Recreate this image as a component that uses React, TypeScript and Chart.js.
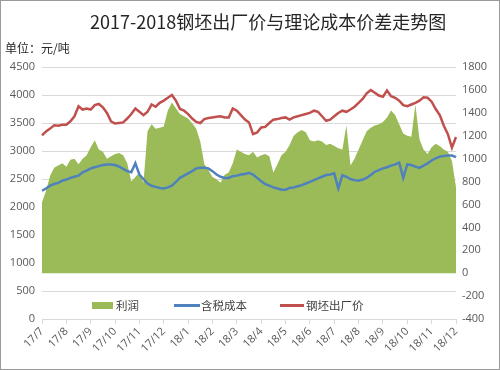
import React, { useEffect, useRef } from "react";
import { Chart, registerables } from "chart.js";

Chart.register(...registerables);

const monthLabels = [
  "17/7", "17/8", "17/9", "17/10", "17/11", "17/12",
  "18/1", "18/2", "18/3", "18/4", "18/5", "18/6",
  "18/7", "18/8", "18/9", "18/10", "18/11", "18/12",
];
const pointsPerMonth = 6;

// 钢坯出厂价 (left axis)
const priceValues = [
  3280, 3350, 3400, 3460, 3450, 3470, 3470, 3530, 3620, 3800,
  3740, 3760, 3740, 3820, 3840, 3780, 3680, 3530, 3490, 3500,
  3510, 3580, 3660, 3760, 3700, 3640, 3700, 3830, 3790, 3860,
  3900, 3950, 4000, 3900, 3750, 3720, 3660, 3580, 3520, 3500,
  3570, 3590, 3600, 3610, 3620, 3600, 3600, 3760, 3720, 3640,
  3560, 3510, 3300, 3330, 3420, 3430, 3500, 3560, 3570, 3590,
  3600, 3560, 3600, 3620, 3640, 3660, 3680, 3720, 3700, 3620,
  3540, 3560, 3620, 3680, 3720, 3700, 3740, 3790, 3860, 3930,
  4030, 4090, 4040, 3990, 3970, 4080, 3980, 3950, 3900, 3820,
  3800, 3830, 3860, 3900, 3960, 3950, 3880, 3750, 3640, 3450,
  3300, 3060, 3250,
];

// 含税成本 (left axis)
const costValues = [
  2290, 2330, 2380, 2410, 2430, 2470, 2490, 2520, 2540, 2560,
  2620, 2650, 2690, 2710, 2730, 2750, 2760, 2760, 2750, 2720,
  2680, 2640, 2620, 2780, 2580, 2500, 2420, 2380, 2360, 2340,
  2330, 2350, 2380, 2450, 2520, 2560, 2600, 2640, 2690, 2700,
  2700, 2690, 2640, 2580, 2540, 2520, 2520, 2550, 2560, 2580,
  2590, 2610, 2580, 2520, 2460, 2410, 2380, 2350, 2330, 2310,
  2310, 2340, 2350, 2370, 2390, 2420, 2450, 2480, 2510, 2540,
  2570, 2580, 2600, 2330, 2570, 2540, 2500, 2480, 2470, 2490,
  2520, 2570, 2630, 2660, 2690, 2710, 2740, 2760, 2790, 2520,
  2760, 2750, 2720, 2700, 2740, 2780, 2830, 2870, 2900, 2910,
  2920, 2920, 2890,
];

// 利润 (right axis)
const profitValues = [
  620, 720, 850, 920, 940, 960, 930, 990, 1000, 950,
  1000, 1030, 1100, 1160, 1080, 1060, 1000, 1020, 1040, 1050,
  1030, 960, 800, 840, 880, 790, 1240, 1300, 1260, 1270,
  1280, 1420, 1490, 1440, 1390, 1370, 1350, 1310, 1260, 1150,
  950, 900, 840, 820, 790, 860, 880, 960, 1080, 1060,
  1040, 1030, 1060, 1010, 1030, 1040, 1020, 880, 950, 1030,
  1060, 1120, 1200, 1230, 1250, 1230, 1160, 1150, 1160, 1150,
  1120, 1130, 1110, 1090, 1080, 1290, 940, 1000, 1080, 1160,
  1240, 1270, 1290, 1300, 1320, 1360, 1420, 1380, 1300, 1220,
  1200, 1190, 1470, 1170, 1080, 1040, 1100, 1130, 1110, 1080,
  1060, 980, 750,
];

const leftTicks = { min: 0, max: 4500, step: 500 };
const rightTicks = { min: -400, max: 1800, step: 200 };

const titleText = "2017-2018钢坯出厂价与理论成本价差走势图";
const unitText = "单位：元/吨";
const seriesNames = ["利润", "含税成本", "钢坯出厂价"];
const colors = { profit: "#9BBB59", cost: "#4F81BD", price: "#C0504D" };

const cjk = '"Noto Sans CJK SC", "Noto Sans", sans-serif';
const tickFont = { family: "Open Sans, Noto Sans, sans-serif", size: 11 };

export default function App() {
  const ref = useRef<HTMLCanvasElement | null>(null);

  useEffect(() => {
    if (!ref.current) return;
    const labels = priceValues.map((_, i) =>
      i % pointsPerMonth === 0 ? monthLabels[i / pointsPerMonth] : ""
    );
    const chart = new Chart(ref.current, {
      type: "line",
      data: {
        labels,
        datasets: [
          {
            label: seriesNames[2],
            data: priceValues,
            borderColor: colors.price,
            borderWidth: 2.5,
            pointRadius: 0,
            fill: false,
            yAxisID: "y",
            tension: 0,
          },
          {
            label: seriesNames[1],
            data: costValues,
            borderColor: colors.cost,
            borderWidth: 2.5,
            pointRadius: 0,
            fill: false,
            yAxisID: "y",
            tension: 0,
          },
          {
            label: seriesNames[0],
            data: profitValues,
            borderColor: colors.profit,
            backgroundColor: colors.profit,
            borderWidth: 0,
            pointRadius: 0,
            fill: "origin",
            yAxisID: "y1",
            tension: 0,
          },
        ],
      },
      options: {
        animation: false,
        responsive: false,
        layout: { padding: { top: 67, left: 0, right: 0, bottom: 5 } },
        plugins: {
          legend: { display: false },
          title: { display: false },
          tooltip: { enabled: false },
        },
        scales: {
          x: {
            type: "category",
            offset: false,
            afterFit: (s: any) => {
              s.height = 46;
            },
            grid: {
              drawOnChartArea: false,
              drawTicks: true,
              tickLength: 5,
              color: "#d9d9d9",
            },
            border: { display: true, color: "#d9d9d9" },
            ticks: {
              autoSkip: false,
              maxRotation: 45,
              minRotation: 45,
              padding: 1,
              color: "#595959",
              font: tickFont,
              callback: (_v: any, idx: number) => labels[idx] || null,
            },
          },
          y: {
            position: "left",
            min: leftTicks.min,
            max: leftTicks.max,
            afterFit: (s: any) => {
              s.width = 42;
            },
            grid: { color: "#d9d9d9", drawTicks: false },
            border: { display: false },
            ticks: {
              stepSize: leftTicks.step,
              padding: 7,
              color: "#595959",
              font: tickFont,
              callback: (v: any) => String(v),
            },
          },
          y1: {
            position: "right",
            min: rightTicks.min,
            max: rightTicks.max,
            afterFit: (s: any) => {
              s.width = 44;
            },
            grid: { drawOnChartArea: false, drawTicks: false },
            border: { display: false },
            ticks: {
              stepSize: rightTicks.step,
              padding: 6,
              color: "#595959",
              font: tickFont,
              callback: (v: any) => String(v),
            },
          },
        },
      },
    });
    return () => chart.destroy();
  }, []);

  const legendText: React.CSSProperties = {
    position: "absolute",
    top: 296,
    fontFamily: cjk,
    fontSize: 11.5,
    color: "#404040",
    whiteSpace: "nowrap",
    lineHeight: "18px",
  };

  return (
    <div
      style={{
        position: "fixed",
        left: 0,
        top: 0,
        width: 500,
        height: 370,
        background: "#fff",
        overflow: "hidden",
      }}
    >
      <canvas
        ref={ref}
        width={500}
        height={370}
        style={{ position: "absolute", left: 0, top: 0, width: 500, height: 370 }}
      />
      <div
        style={{
          position: "absolute",
          left: 90,
          top: 8,
          fontFamily: cjk,
          fontSize: 18,
          color: "#262626",
          whiteSpace: "nowrap",
          lineHeight: "26px",
        }}
      >
        {titleText}
      </div>
      <div
        style={{
          position: "absolute",
          left: 5,
          top: 39,
          fontFamily: cjk,
          fontSize: 12,
          color: "#262626",
          whiteSpace: "nowrap",
          lineHeight: "18px",
        }}
      >
        {unitText}
      </div>
      <div
        style={{
          position: "absolute",
          left: 92,
          top: 302,
          width: 21,
          height: 7,
          background: colors.profit,
        }}
      />
      <div style={{ ...legendText, left: 116 }}>{seriesNames[0]}</div>
      <div
        style={{
          position: "absolute",
          left: 174,
          top: 304,
          width: 26,
          height: 2.5,
          background: colors.cost,
        }}
      />
      <div style={{ ...legendText, left: 201 }}>{seriesNames[1]}</div>
      <div
        style={{
          position: "absolute",
          left: 280,
          top: 304,
          width: 24,
          height: 2.5,
          background: colors.price,
        }}
      />
      <div style={{ ...legendText, left: 306 }}>{seriesNames[2]}</div>
      <div
        style={{
          position: "absolute",
          left: 0,
          top: 0,
          width: 500,
          height: 370,
          boxSizing: "border-box",
          border: "1px solid #9a9a9a",
          pointerEvents: "none",
        }}
      />
    </div>
  );
}
